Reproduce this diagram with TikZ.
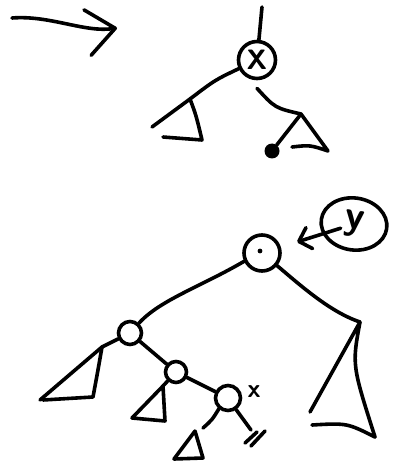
\documentclass[tikz,border=0pt]{standalone}
\usetikzlibrary{arrows.meta,shapes.geometric}
\tikzset{
  pen/.style={line width=3.6pt, line cap=round, line join=round},
  vert/.style={draw, circle, pen, inner sep=0pt},
  leafdot/.style={circle, fill, inner sep=0pt, minimum size=15pt},
  hand/.style={font=\fontsize{#1}{#1}\selectfont\sffamily\bfseries},
}
\begin{document}
\begin{tikzpicture}[x=1pt, y=-1pt, >={Straight Barb[round]}]
    \useasboundingbox (0,0) rectangle (393,465);
    % the arrow on top
    \coordinate (from) at (12,18);
    \coordinate (to) at (117,28);
    \draw[pen, -{Straight Barb[round, length=28pt, width=46pt]}]
        (from) .. controls (50,15) and (85,33) .. (to);
    % tree before
    \node[vert, minimum size=37pt, hand=28] (topx) at (257,60) {X};
    \coordinate (topin) at (262,7);
    \coordinate (lapex) at (190,99);
    \coordinate (rapex) at (301,114);
    \node[leafdot] (leaf) at (272,151) {};
    \draw[pen] (topin) -- (topx);
    \draw[pen] (topx) .. controls (215,80) .. (lapex);
    \draw[pen] (152,127) -- (lapex) .. controls (196,115) .. (202,140) -- (163,137);
    \draw[pen] ([yshift=-8pt]topx.south) .. controls (275,108) .. (rapex);
    \draw[pen] (rapex) -- (328,151) .. controls (310,145) .. (292,147);
    \draw[pen] (rapex) -- (leaf);
    % tree after
    \node[vert, minimum size=36pt] (root) at (262,253) {};
    \fill (260,251) circle (2.4pt);
    \node[draw, ellipse, pen, minimum width=66pt, minimum height=52pt,
        hand=40, rotate=-8] (ynode) at (354,224) {y};
    \draw[pen, shorten <=14pt, shorten >=17pt,
        -{Straight Barb[round, length=11pt, width=22pt]}]
        (ynode.center) -- (root);
    \node[vert, minimum size=23pt] (nb) at (130,333) {};
    \node[vert, minimum size=21pt] (nc) at (176,372) {};
    \node[vert, minimum size=25pt] (nd) at (228,398) {};
    \node[hand=26] (xmark) at (254,392) {x};
    \coordinate (bigapex) at (360,322);
    \coordinate (bapex) at (102,347);
    \coordinate (capex) at (163,386);
    \coordinate (dapex) at (195,431);
    \coordinate (nil) at (251,430);
    \draw[pen] (root.205) .. controls (200,287) and (160,300) .. (nb);
    \draw[pen] (root.-40) .. controls (300,285) and (330,312) .. (bigapex);
    \draw[pen] (310,412) -- (bigapex) .. controls (352,365) .. (375,437);
    \draw[pen] (312,425) .. controls (347,423) .. (375,437);
    \draw[pen] (nb) -- (bapex);
    \draw[pen] (bapex) -- (40,400);
    \draw[pen] (bapex) .. controls (98,370) .. (93,397) -- (43,400);
    \draw[pen] (nb) -- (nc);
    \draw[pen] (nc) -- (capex) -- (132,418) -- (165,421) -- (capex);
    \draw[pen] (nc) -- (nd);
    \draw[pen] (nd.230) .. controls (212,420) .. (203,428);
    \draw[pen] (dapex) -- (174,459) -- (203,458) -- (dapex);
    \draw[pen] (nd.-55) -- (nil);
    \draw[pen] (245,443) -- (257,432);
    \draw[pen] (251,446) -- (265,431);
\end{tikzpicture}
\end{document}
